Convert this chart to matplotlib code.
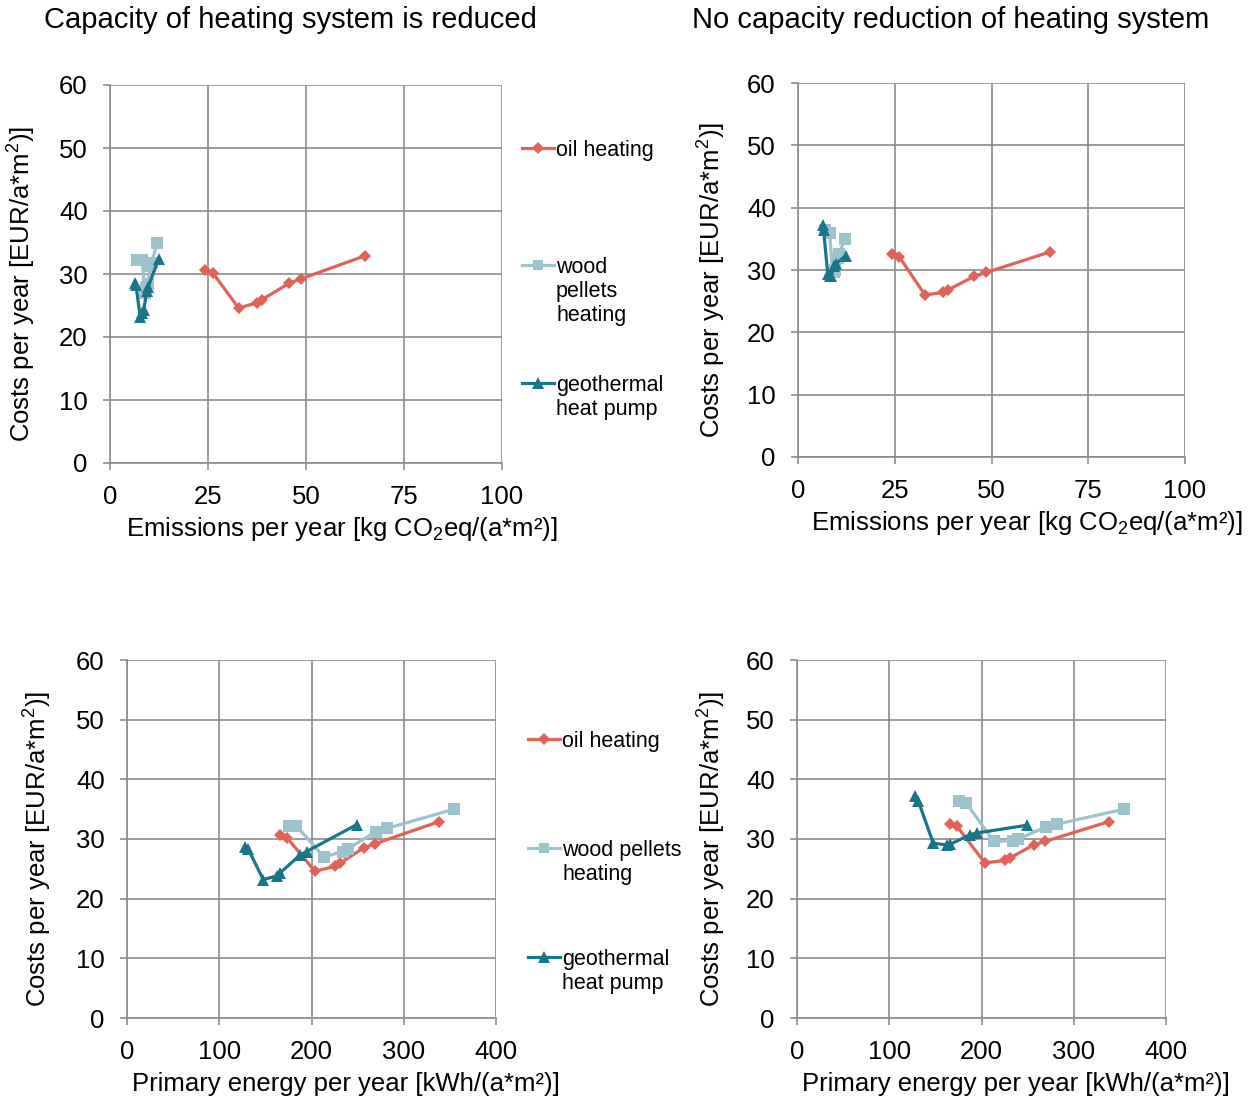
import matplotlib

matplotlib.use("Agg")
import matplotlib.pyplot as plt
from matplotlib.lines import Line2D

plt.rcParams["font.family"] = ["Liberation Sans", "DejaVu Sans"]
plt.rcParams["mathtext.fontset"] = "custom"
plt.rcParams["mathtext.rm"] = "Liberation Sans"
plt.rcParams["mathtext.it"] = "Liberation Sans"

# cost values [EUR/(a*m2)], reduced capacity
oil_cost_red = [30.6, 30.2, 24.6, 25.4, 25.9, 28.5, 29.2, 32.9]
wood_cost_red = [32.2, 32.2, 27.0, 27.9, 28.4, 31.2, 31.8, 35.0]
geo_cost_red = [28.6, 28.3, 23.2, 23.8, 24.3, 27.3, 27.9, 32.4]

# cost values, no capacity reduction
oil_cost_full = [32.5, 32.1, 26.0, 26.4, 26.8, 29.0, 29.6, 32.9]
wood_cost_full = [36.4, 36.0, 29.6, 29.7, 30.0, 32.0, 32.5, 35.0]
geo_cost_full = [37.2, 36.4, 29.3, 29.0, 29.1, 30.7, 31.0, 32.3]

# emissions [kg CO2eq/(a*m2)]
oil_emis = [24.3, 26.2, 32.8, 37.4, 38.7, 45.6, 48.6, 65.1]
wood_emis = [7.0, 8.2, 8.9, 9.3, 9.6, 10.3, 10.6, 12.1]
geo_emis = [6.4, 6.6, 7.7, 8.2, 8.6, 9.4, 9.7, 12.4]

# primary energy [kWh/(a*m2)]
oil_pe = [166.0, 173.5, 203.7, 225.0, 230.5, 256.5, 268.8, 338.0]
wood_pe = [176.0, 183.5, 213.5, 234.0, 239.8, 269.6, 282.3, 354.5]
geo_pe = [127.5, 131.4, 147.7, 162.2, 165.8, 187.4, 194.7, 248.9]

colors = ["#E06258", "#9DC4CD", "#18758A"]
markers = ["D", "s", "^"]
marker_sizes = [6.5, 8, 9]

GRID = "#8C8C8C"
FS = 18.5
LEG_FS = 15.5

fig = plt.figure(figsize=(12.58, 10.97), dpi=100)
W, H = 1258, 1097


def axes_px(x0, y0, x1, y1):
    ax = fig.add_axes([x0 / W, 1 - y1 / H, (x1 - x0) / W, (y1 - y0) / H])
    ax.px_box = (x0, y0, x1, y1)
    return ax


def style_axes(ax, xmax, xticks, xlabel, ylab_dx):
    x0, y0, x1, y1 = ax.px_box
    w, h = x1 - x0, y1 - y0
    ax.set_xlim(0, xmax)
    ax.set_ylim(0, 60)
    ax.set_xticks(xticks)
    ax.set_yticks(range(0, 61, 10))
    ax.grid(True, color=GRID, linewidth=1.2)
    ax.set_axisbelow(True)
    for side in ["top", "right"]:
        ax.spines[side].set_visible(False)
    for side in ["left", "bottom"]:
        ax.spines[side].set_color(GRID)
        ax.spines[side].set_linewidth(1.2)
    ax.tick_params(axis="both", direction="out", length=5, width=1.2, color=GRID,
                   labelsize=FS, pad=11)
    ax.set_xlabel(xlabel, fontsize=FS, va="center")
    ax.xaxis.set_label_coords(0.592, -66 / h)
    ax.set_ylabel(r"Costs per year [EUR/a*m$^2$)]", fontsize=FS, va="center")
    ax.yaxis.set_label_coords(ylab_dx / w, 0.5 - 10 / h)


def draw_series(ax, xs, ys):
    for x, y, c, m, ms in zip(xs, ys, colors, markers, marker_sizes):
        ax.plot(x, y, color=c, marker=m, markersize=ms, linewidth=2.3,
                markeredgewidth=0, clip_on=False)


def add_legend(labels, anchors):
    # one legend per entry; extra label lines go below the first one
    for label, c, m, ms, (x, y) in zip(labels, colors, markers, marker_sizes, anchors):
        lines = label.split("\n")
        handle = Line2D([], [], color=c, marker=m, markersize=ms * 0.9,
                        linewidth=2.3, markeredgewidth=0)
        leg = fig.legend([handle], [lines[0]], loc="upper left",
                         bbox_to_anchor=(x / W, 1 - y / H),
                         frameon=False, fontsize=LEG_FS, handlelength=1.5,
                         handletextpad=0.08, borderaxespad=0, borderpad=0)
        if len(lines) > 1:
            fig.canvas.draw()
            bb = leg.get_texts()[0].get_window_extent(fig.canvas.get_renderer())
            fig.text(bb.x0 / fig.bbox.width, (bb.y0 - 3) / fig.bbox.height,
                     "\n".join(lines[1:]), ha="left", va="top", fontsize=LEG_FS,
                     linespacing=1.2)


ax_tl = axes_px(110, 85, 502, 463)
ax_tr = axes_px(798, 83, 1185, 457)
ax_bl = axes_px(127, 660, 496, 1018)
ax_br = axes_px(797, 660, 1166, 1018)

emis_label = r"Emissions per year [kg CO$_2$eq/(a*m²)]"
pe_label = "Primary energy per year [kWh/(a*m²)]"

style_axes(ax_tl, 100, [0, 25, 50, 75, 100], emis_label, -88)
style_axes(ax_tr, 100, [0, 25, 50, 75, 100], emis_label, -86)
style_axes(ax_bl, 400, [0, 100, 200, 300, 400], pe_label, -89)
style_axes(ax_br, 400, [0, 100, 200, 300, 400], pe_label, -85)

draw_series(ax_tl, [oil_emis, wood_emis, geo_emis], [oil_cost_red, wood_cost_red, geo_cost_red])
draw_series(ax_tr, [oil_emis, wood_emis, geo_emis], [oil_cost_full, wood_cost_full, geo_cost_full])
draw_series(ax_bl, [oil_pe, wood_pe, geo_pe], [oil_cost_red, wood_cost_red, geo_cost_red])
draw_series(ax_br, [oil_pe, wood_pe, geo_pe], [oil_cost_full, wood_cost_full, geo_cost_full])

add_legend(["oil heating", "wood\npellets\nheating", "geothermal\nheat pump"],
           [(522, 140), (522, 257), (522, 375)])
add_legend(["oil heating", "wood pellets\nheating", "geothermal\nheat pump"],
           [(528, 731), (528, 840), (528, 949)])

fig.text(290 / W, 1 - 20 / H, "Capacity of heating system is reduced",
         ha="center", va="center", fontsize=21)
fig.text(951 / W, 1 - 20 / H, "No capacity reduction of heating system",
         ha="center", va="center", fontsize=21)

fig.savefig("out.png", dpi=100)
